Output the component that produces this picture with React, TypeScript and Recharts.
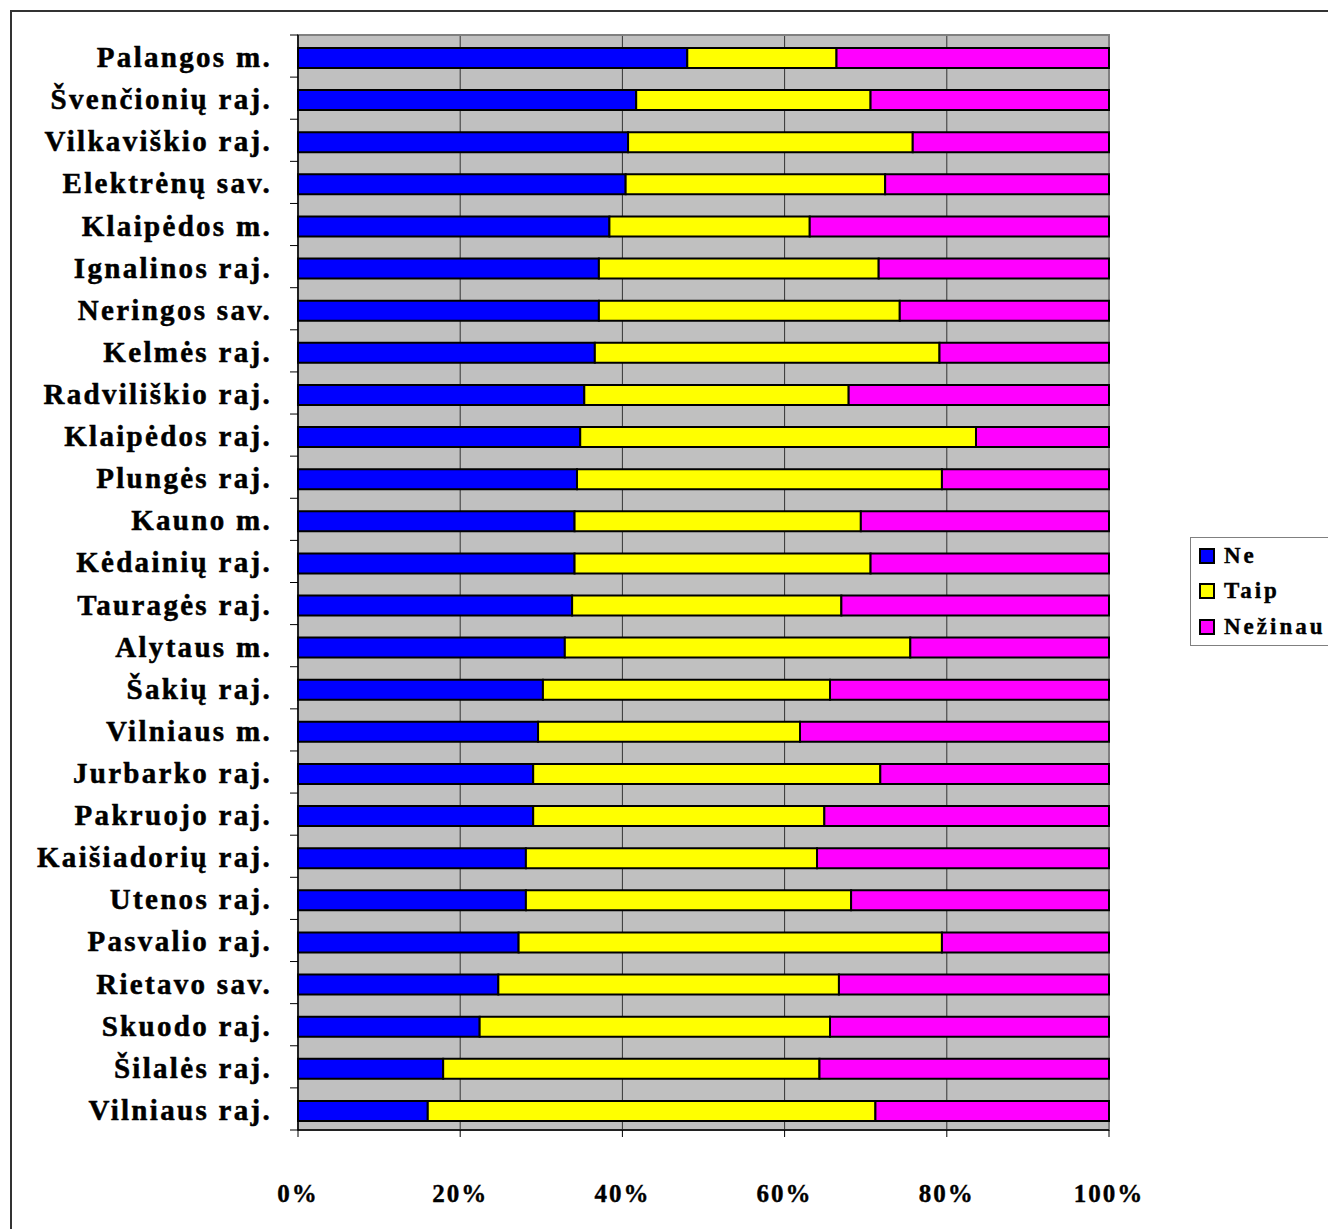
import React from "react";
import {
  Bar,
  BarChart,
  CartesianGrid,
  ReferenceArea,
  Rectangle,
  XAxis,
  YAxis,
} from "recharts";

const categories = [
  "Palangos m.",
  "Švenčionių raj.",
  "Vilkaviškio raj.",
  "Elektrėnų sav.",
  "Klaipėdos m.",
  "Ignalinos raj.",
  "Neringos sav.",
  "Kelmės raj.",
  "Radviliškio raj.",
  "Klaipėdos raj.",
  "Plungės raj.",
  "Kauno m.",
  "Kėdainių raj.",
  "Tauragės raj.",
  "Alytaus m.",
  "Šakių raj.",
  "Vilniaus m.",
  "Jurbarko raj.",
  "Pakruojo raj.",
  "Kaišiadorių raj.",
  "Utenos raj.",
  "Pasvalio raj.",
  "Rietavo sav.",
  "Skuodo raj.",
  "Šilalės raj.",
  "Vilniaus raj.",
];

// percent answering "Ne"
const ne = [
  48.0, 41.7, 40.7, 40.4, 38.4, 37.1, 37.1, 36.6, 35.3, 34.8, 34.4, 34.1, 34.1,
  33.8, 32.9, 30.2, 29.6, 29.0, 29.0, 28.1, 28.1, 27.2, 24.7, 22.4, 17.9, 16.0,
];

// percent answering "Taip"
const taip = [
  18.4, 28.9, 35.1, 32.0, 24.7, 34.5, 37.1, 42.5, 32.6, 48.8, 45.0, 35.3, 36.5,
  33.2, 42.6, 35.4, 32.3, 42.8, 35.9, 35.9, 40.1, 52.2, 42.0, 43.2, 46.4, 55.2,
];

// percent answering "Nežinau"
const nezinau = [
  33.6, 29.4, 24.2, 27.6, 36.9, 28.4, 25.8, 20.9, 32.1, 16.4, 20.6, 30.6, 29.4,
  33.0, 24.5, 34.4, 38.1, 28.2, 35.1, 36.0, 31.8, 20.6, 33.3, 34.4, 35.7, 28.8,
];

const xTicks = [0, 20, 40, 60, 80, 100];

const series = [
  { key: "ne", name: "Ne", color: "#0000ff" },
  { key: "taip", name: "Taip", color: "#ffff00" },
  { key: "nezinau", name: "Nežinau", color: "#ff00ff" },
];

const rows = categories.map((name, i) => ({
  name,
  ne: ne[i],
  taip: taip[i],
  nezinau: nezinau[i],
}));

const FONT = "'Liberation Serif', 'Times New Roman', serif";
const PLOT_LEFT = 298;

function CategoryTick(props: any) {
  const { y, payload, index } = props;
  const half = payload?.offset || 21.6;
  return (
    <g>
      <line x1={PLOT_LEFT - 8} x2={PLOT_LEFT} y1={y - half} y2={y - half} stroke="#000" />
      {index === categories.length - 1 && (
        <line x1={PLOT_LEFT - 8} x2={PLOT_LEFT} y1={y + half} y2={y + half} stroke="#000" />
      )}
      <text
        x={272}
        y={y + 1}
        textAnchor="end"
        dominantBaseline="central"
        fontFamily={FONT}
        fontWeight="bold"
        fontSize={29}
        letterSpacing={2.3}
        fill="#000"
        stroke="#000"
        strokeWidth={0.5}
      >
        {payload.value}
      </text>
    </g>
  );
}

function PercentTick(props: any) {
  const { x, payload } = props;
  return (
    <text
      x={x}
      y={1193}
      textAnchor="middle"
      dominantBaseline="central"
      fontFamily={FONT}
      fontWeight="bold"
      fontSize={25}
      letterSpacing={2}
      fill="#000"
      stroke="#000"
      strokeWidth={0.4}
    >
      {payload.value}%
    </text>
  );
}

// Excel draws the bars a couple of pixels below the band centre
function ShiftedBar(props: any) {
  return <Rectangle {...props} y={props.y + 2} />;
}

function LegendBox() {
  return (
    <div
      style={{
        position: "absolute",
        left: 1190,
        top: 537,
        width: 170,
        background: "#fff",
        border: "1px solid #808080",
        padding: "0 0 0 8px",
        fontFamily: FONT,
        fontWeight: "bold",
        fontSize: 23,
        letterSpacing: 3,
        color: "#000",
        WebkitTextStroke: "0.4px #000",
      }}
    >
      {series.map((s) => (
        <div key={s.key} style={{ display: "flex", alignItems: "center", height: 35.5 }}>
          <span
            style={{
              display: "inline-block",
              width: 12,
              height: 12,
              background: s.color,
              border: "2px solid #000",
              marginRight: 9,
            }}
          />
          {s.name}
        </div>
      ))}
    </div>
  );
}

export default function App() {
  return (
    <div
      style={{
        position: "absolute",
        left: 0,
        top: 0,
        width: 1328,
        height: 1229,
        overflow: "hidden",
        background: "#fff",
      }}
    >
      <div
        style={{
          position: "absolute",
          left: 10,
          top: 10,
          width: 1400,
          height: 1400,
          border: "2px solid #333",
        }}
      />
      <div style={{ position: "absolute", left: 0, top: 0 }}>
        <BarChart
          width={1328}
          height={1229}
          data={rows}
          layout="vertical"
          margin={{ top: 35, right: 219, bottom: 69, left: 0 }}
          barSize={20}
        >
          <CartesianGrid
            horizontal={false}
            stroke="#333"
            fill="#c0c0c0"
            fillOpacity={1}
          />
          <ReferenceArea x1={0} x2={100} fill="none" stroke="#808080" strokeWidth={2} ifOverflow="visible" />
          <XAxis
            type="number"
            domain={[0, 100]}
            ticks={xTicks}
            interval={0}
            axisLine={{ stroke: "#000", strokeWidth: 1.5 }}
            tickLine={{ stroke: "#000" }}
            tickSize={7}
            tick={<PercentTick />}
          />
          <YAxis
            type="category"
            dataKey="name"
            width={PLOT_LEFT}
            interval={0}
            axisLine={{ stroke: "#000", strokeWidth: 1.5 }}
            tickLine={false}
            tick={<CategoryTick />}
          />
          {series.map((s) => (
            <Bar
              key={s.key}
              dataKey={s.key}
              name={s.name}
              stackId="a"
              fill={s.color}
              stroke="#000"
              strokeWidth={2}
              shape={<ShiftedBar />}
              isAnimationActive={false}
            />
          ))}
        </BarChart>
      </div>
      <LegendBox />
    </div>
  );
}
